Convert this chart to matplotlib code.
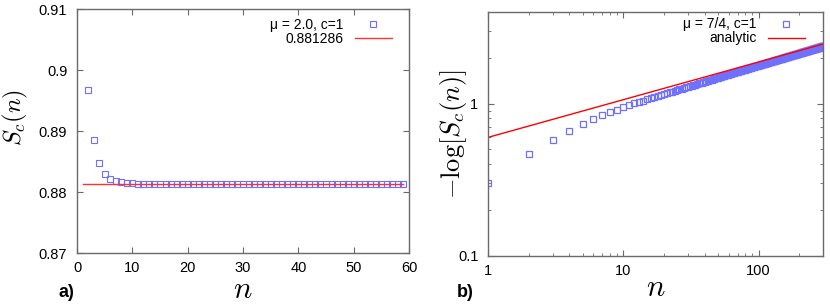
import numpy as np
import matplotlib
matplotlib.use("Agg")
import matplotlib.pyplot as plt
from matplotlib.ticker import LogLocator, NullFormatter, FixedLocator

plt.rcParams['font.family'] = ['Liberation Sans', 'DejaVu Sans']
plt.rcParams['mathtext.fontset'] = 'cm'

# ---- panel a) data ----
n_a = np.arange(2, 60)
sc_a = [0.8968, 0.8885, 0.8848, 0.8830, 0.8822, 0.8818, 0.8816, 0.8815,
        0.8815, 0.8814, 0.8814, 0.8814, 0.8814, 0.8814, 0.8814, 0.8814,
        0.8814, 0.8814, 0.8814, 0.8814, 0.8814, 0.8814, 0.8814, 0.8814,
        0.8814, 0.8814, 0.8814, 0.8814, 0.8814, 0.8814, 0.8814, 0.8814,
        0.8814, 0.8814, 0.8814, 0.8814, 0.8814, 0.8814, 0.8814, 0.8814,
        0.8814, 0.8814, 0.8814, 0.8814, 0.8814, 0.8814, 0.8814, 0.8814,
        0.8814, 0.8814, 0.8814, 0.8814, 0.8814, 0.8814, 0.8814, 0.8814,
        0.8814, 0.8814]
limit_x = [1, 59]
limit_val = 0.881286

# ---- panel b) data ----
logsc_b = [
    0.300, 0.467, 0.577, 0.661, 0.738, 0.797, 0.838, 0.881, 0.914, 0.951,
    0.978, 1.002, 1.024, 1.046, 1.066, 1.085, 1.103, 1.121, 1.138, 1.154,
    1.169, 1.184, 1.199, 1.213, 1.227, 1.240, 1.253, 1.265, 1.277, 1.289,
    1.301, 1.312, 1.323, 1.334, 1.344, 1.355, 1.365, 1.375, 1.384, 1.394,
    1.403, 1.411, 1.420, 1.429, 1.437, 1.446, 1.454, 1.463, 1.471, 1.480,
    1.488, 1.495, 1.503, 1.510, 1.518, 1.525, 1.533, 1.540, 1.548, 1.555,
    1.562, 1.568, 1.575, 1.581, 1.588, 1.594, 1.601, 1.607, 1.614, 1.620,
    1.626, 1.632, 1.638, 1.644, 1.650, 1.655, 1.661, 1.667, 1.673, 1.679,
    1.684, 1.690, 1.695, 1.701, 1.706, 1.711, 1.717, 1.722, 1.728, 1.733,
    1.738, 1.743, 1.748, 1.753, 1.758, 1.762, 1.767, 1.772, 1.777, 1.782,
    1.786, 1.791, 1.795, 1.800, 1.804, 1.809, 1.813, 1.818, 1.822, 1.827,
    1.831, 1.835, 1.840, 1.844, 1.849, 1.853, 1.858, 1.862, 1.867, 1.871,
    1.875, 1.879, 1.883, 1.887, 1.891, 1.894, 1.898, 1.902, 1.906, 1.910,
    1.914, 1.918, 1.922, 1.926, 1.930, 1.933, 1.937, 1.941, 1.945, 1.949,
    1.952, 1.956, 1.959, 1.963, 1.966, 1.970, 1.973, 1.977, 1.980, 1.984,
    1.987, 1.991, 1.994, 1.998, 2.001, 2.005, 2.008, 2.012, 2.015, 2.019,
    2.022, 2.025, 2.029, 2.032, 2.035, 2.038, 2.041, 2.045, 2.048, 2.051,
    2.054, 2.057, 2.061, 2.064, 2.067, 2.070, 2.073, 2.077, 2.080, 2.083,
    2.086, 2.089, 2.092, 2.095, 2.098, 2.100, 2.103, 2.106, 2.109, 2.112,
    2.115, 2.118, 2.121, 2.124, 2.127, 2.129, 2.132, 2.135, 2.138, 2.141,
    2.144, 2.146, 2.149, 2.152, 2.155, 2.157, 2.160, 2.163, 2.165, 2.168,
    2.171, 2.174, 2.176, 2.179, 2.182, 2.185, 2.187, 2.190, 2.193, 2.195,
    2.198, 2.201, 2.204, 2.206, 2.209,
    2.211, 2.214, 2.216, 2.219, 2.221, 2.224, 2.226, 2.229, 2.231, 2.234,
    2.236, 2.239, 2.241, 2.244, 2.246, 2.249, 2.251, 2.254, 2.256, 2.259,
    2.261, 2.264, 2.266, 2.269, 2.271,
    2.273, 2.276, 2.278, 2.280, 2.282, 2.285, 2.287, 2.289, 2.292, 2.294,
    2.296, 2.298, 2.301, 2.303, 2.305, 2.307, 2.310, 2.312, 2.314, 2.317,
    2.319, 2.321, 2.323, 2.326, 2.328,
    2.330, 2.332, 2.334, 2.337, 2.339, 2.341, 2.343, 2.345, 2.347, 2.350,
    2.352, 2.354, 2.356, 2.358, 2.360, 2.363, 2.365, 2.367, 2.369, 2.371,
    2.373, 2.376, 2.378, 2.380, 2.382]
n_b = np.arange(1, len(logsc_b) + 1)
analytic_x = [1, 300]
analytic_y = [0.60, 2.46]

marker_col = '#7070ff'
spine_col = '#6a6a6a'

fig = plt.figure(figsize=(8.3, 3.05), dpi=100)
ax1 = fig.add_axes([0.0928, 0.170, 0.400, 0.800])
ax2 = fig.add_axes([0.588, 0.161, 0.4036, 0.800])


def style(ax):
    for s in ax.spines.values():
        s.set_color(spine_col)
        s.set_linewidth(1.0)
    ax.tick_params(which='both', direction='in', top=True, right=True,
                   color=spine_col, labelsize=10.5)
    ax.tick_params(axis='x', pad=6)
    ax.tick_params(axis='y', pad=7)
    ax.tick_params(which='major', length=4)
    ax.tick_params(which='minor', length=2.5)


leg_kw = dict(loc='upper right', frameon=False, markerfirst=False,
              fontsize=10, handlelength=2.7, borderaxespad=0,
              labelspacing=0.0, handletextpad=0.8)

# panel a
ax1.plot(n_a, sc_a, ls='none', marker='s', ms=4.5, mfc='none',
         mec=marker_col, mew=0.8, label=r'μ = 2.0, c=1')
ax1.plot(limit_x, [limit_val, limit_val], color='#ff3030', lw=1.0,
         label='0.881286')
ax1.set_xlim(0, 60)
ax1.set_ylim(0.87, 0.91)
ax1.set_xticks([0, 10, 20, 30, 40, 50, 60])
ax1.set_yticks([0.87, 0.88, 0.89, 0.90, 0.91])
ax1.set_yticklabels(['0.87', '0.88', '0.89', '0.9', '0.91'])
style(ax1)
ax1.set_xlabel(r'$n$', fontsize=22, labelpad=0)
ax1.set_ylabel(r'$S_c(n)$', fontsize=17.5)
ax1.yaxis.set_label_coords(-0.142, 0.557)
ax1.legend(bbox_to_anchor=(0.966, 0.988), **leg_kw)
fig.text(0.070, 0.026, 'a)', fontsize=13, fontweight='bold')

# panel b
ax2.plot(n_b, logsc_b, ls='none', marker='s', ms=4.5, mfc='none',
         mec=marker_col, mew=0.9, label=r'μ = 7/4, c=1')
ax2.plot(analytic_x, analytic_y, color='red', lw=1.0, label='analytic')
ax2.set_xscale('log')
ax2.set_yscale('log')
ax2.set_xlim(1, 300)
ax2.set_ylim(0.1, 4)
ax2.xaxis.set_major_locator(FixedLocator([1, 10, 100]))
ax2.set_xticklabels(['1', '10', '100'])
ax2.yaxis.set_major_locator(FixedLocator([0.1, 1]))
ax2.set_yticklabels(['0.1', '1'])
ax2.xaxis.set_minor_locator(LogLocator(base=10, subs=np.arange(2, 10)))
ax2.yaxis.set_minor_locator(LogLocator(base=10, subs=np.arange(2, 10)))
ax2.xaxis.set_minor_formatter(NullFormatter())
ax2.yaxis.set_minor_formatter(NullFormatter())
style(ax2)
ax2.set_xlabel(r'$n$', fontsize=22, labelpad=-3.5)
ax2.set_ylabel(r'$-\log[S_c(n)]$', fontsize=19)
ax2.yaxis.set_label_coords(-0.058, 0.5)
ax2.legend(bbox_to_anchor=(0.963, 1.0), **leg_kw)
fig.text(0.550, 0.026, 'b)', fontsize=13, fontweight='bold')

fig.savefig('out.png', dpi=100)
